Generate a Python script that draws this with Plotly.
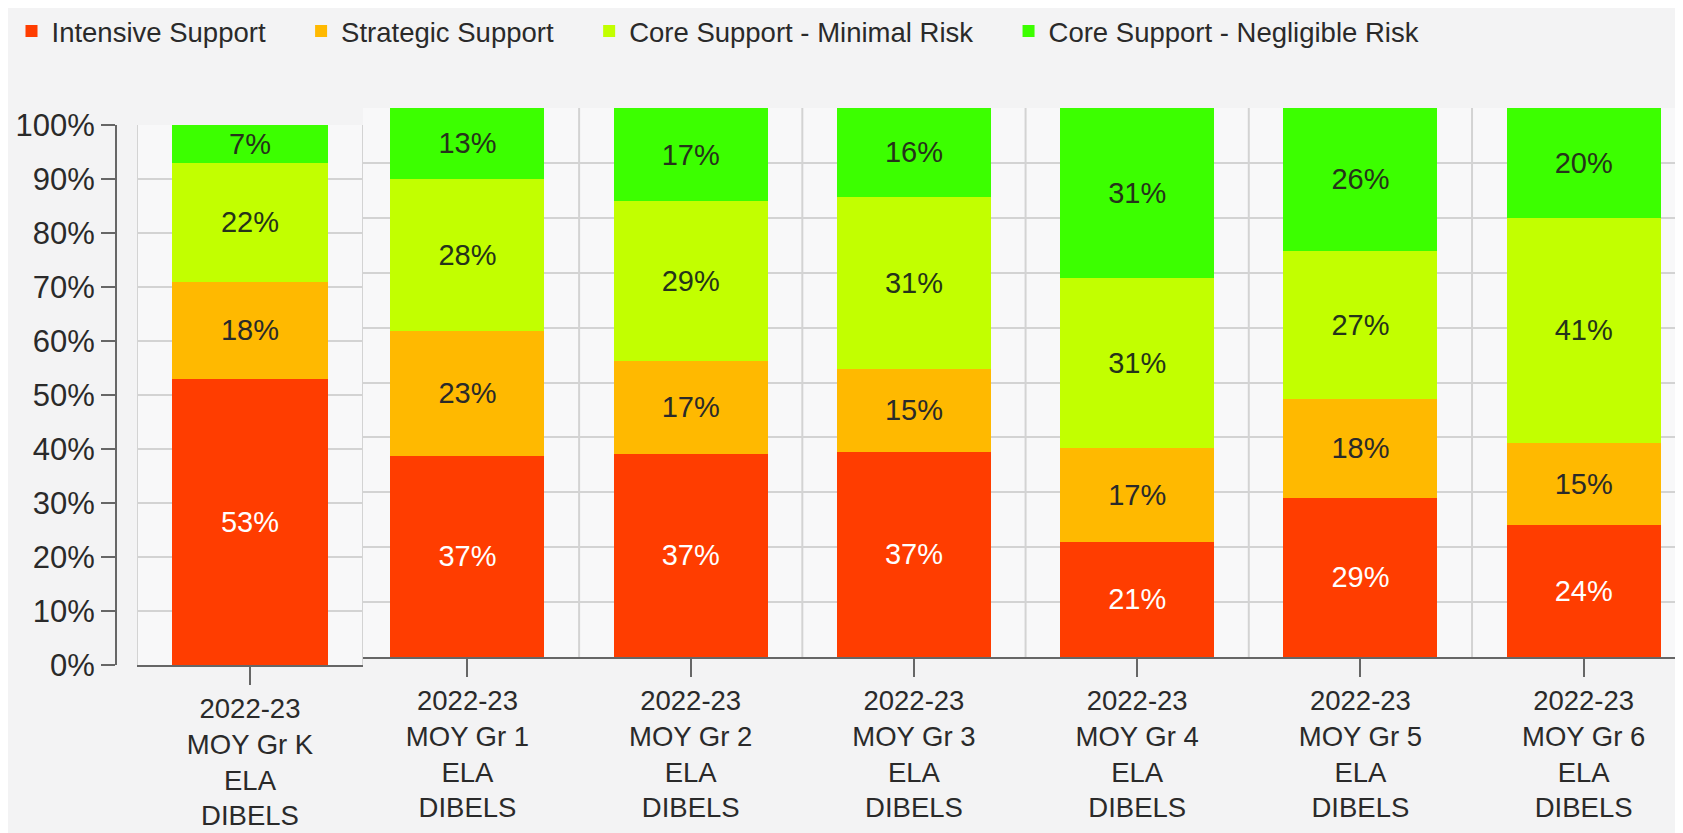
import plotly.graph_objects as go

W, H = 1683, 833
OFF = 8  # default page body margin
FW, FH = W - OFF, H - OFF


def px(p):
    return (p - OFF) / FW


def py(p):
    return 1 - (p - OFF) / FH


categories = [
    "2022-23<br>MOY Gr K<br>ELA<br>DIBELS",
    "2022-23<br>MOY Gr 1<br>ELA<br>DIBELS",
    "2022-23<br>MOY Gr 2<br>ELA<br>DIBELS",
    "2022-23<br>MOY Gr 3<br>ELA<br>DIBELS",
    "2022-23<br>MOY Gr 4<br>ELA<br>DIBELS",
    "2022-23<br>MOY Gr 5<br>ELA<br>DIBELS",
    "2022-23<br>MOY Gr 6<br>ELA<br>DIBELS",
]
intensive = [53, 37, 37, 37, 21, 29, 24]
strategic = [18, 23, 17, 15, 17, 18, 15]
minimal_risk = [22, 28, 29, 31, 31, 27, 41]
negligible_risk = [7, 13, 17, 16, 31, 26, 20]

series_names = ["Intensive Support", "Strategic Support",
                "Core Support - Minimal Risk", "Core Support - Negligible Risk"]
series_values = [intensive, strategic, minimal_risk, negligible_risk]
series_colors = ["#ff3d00", "#ffb900", "#c2ff00", "#3cff00"]
text_colors = ["#ffffff", "#2a2a2a", "#25331a", "#25331a"]

FONT = "Liberation Sans, Arial, sans-serif"
NBSP = "\u00a0" * 4

fig = go.Figure()
for name, vals, col, tcol in zip(series_names, series_values, series_colors, text_colors):
    fig.add_bar(
        x=categories[:1], y=vals[:1], name=name + NBSP, legendgroup=name,
        marker=dict(color=col, line=dict(width=0)),
        text=[f"{v}%" for v in vals[:1]], textposition="inside",
        insidetextanchor="middle", textangle=0, constraintext="none",
        textfont=dict(color=tcol, size=29, family=FONT),
        xaxis="x", yaxis="y", hoverinfo="skip",
    )
    fig.add_bar(
        x=categories[1:], y=vals[1:], name=name + NBSP, legendgroup=name,
        showlegend=False,
        marker=dict(color=col, line=dict(width=0)),
        text=[f"{v}%" for v in vals[1:]], textposition="inside",
        insidetextanchor="middle", textangle=0, constraintext="none",
        textfont=dict(color=tcol, size=29, family=FONT),
        xaxis="x2", yaxis="y2", hoverinfo="skip",
    )

grid = "#d3d3d3"
axis_line = "#666666"
tick_col = "#2a2a2a"

shapes = []
for xv in [-0.5, 0.5]:
    shapes.append(dict(type="line", xref="x", yref="y domain", x0=xv, x1=xv,
                       y0=0, y1=1, line=dict(color=grid, width=2), layer="below"))
for i in range(len(categories) - 2):
    shapes.append(dict(type="line", xref="x2", yref="y2 domain", x0=i + 0.5, x1=i + 0.5,
                       y0=0, y1=1, line=dict(color=grid, width=2), layer="below"))

fig.update_layout(
    width=FW, height=FH, autosize=False,
    margin=dict(l=0, r=0, t=0, b=0, autoexpand=False),
    paper_bgcolor="#f3f3f4", plot_bgcolor="#f8f8f9",
    barmode="stack", barnorm="percent", bargap=0.31,
    font=dict(family=FONT, color=tick_col, size=27),
    showlegend=True,
    legend=dict(orientation="h", x=3.5 / FW, xanchor="left", y=py(31), yanchor="middle",
                font=dict(size=27.5, color=tick_col), bgcolor="rgba(0,0,0,0)",
                traceorder="normal", itemclick=False),
    xaxis=dict(domain=[px(137), px(363)], range=[-0.5, 0.5], anchor="y",
               showline=True, linecolor=axis_line, linewidth=2,
               ticks="outside", ticklen=18, tickwidth=2, tickcolor=axis_line,
               showgrid=False, tickfont=dict(size=27.5, color=tick_col)),
    yaxis=dict(domain=[py(665), py(125)], range=[0, 100], anchor="free",
               position=px(116), showline=True, linecolor=axis_line, linewidth=2,
               ticks="outside", ticklen=14, tickwidth=2, tickcolor=axis_line,
               dtick=10, ticksuffix="%", showgrid=True, gridcolor=grid, gridwidth=2,
               zeroline=False, tickfont=dict(size=31, color=tick_col)),
    xaxis2=dict(domain=[px(363), 1.0], range=[-0.468, 5.445], anchor="y2",
                showline=True, linecolor=axis_line, linewidth=2,
                ticks="outside", ticklen=18, tickwidth=2, tickcolor=axis_line,
                showgrid=False, tickfont=dict(size=27.5, color=tick_col)),
    yaxis2=dict(domain=[py(657), py(108)], range=[0, 100], anchor="x2",
                showline=False, showticklabels=False, ticks="",
                dtick=10, showgrid=True, gridcolor=grid, gridwidth=2, zeroline=False),
    shapes=shapes,
)

fig.write_html("out.html")
